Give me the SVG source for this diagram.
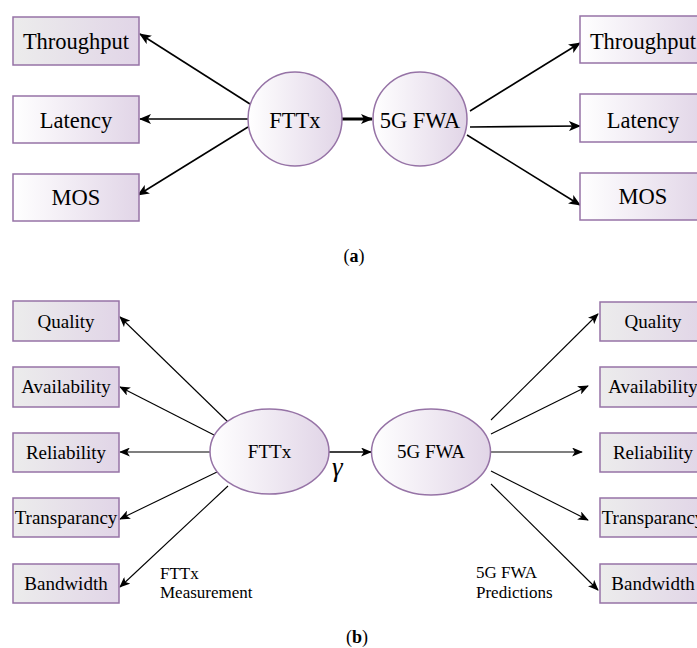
<svg xmlns="http://www.w3.org/2000/svg" width="697" height="648" viewBox="0 0 697 648">
<defs>
<linearGradient id="gW" x1="0" y1="0" x2="1" y2="0"><stop offset="0" stop-color="#ffffff"/><stop offset="1" stop-color="#e1d5e7"/></linearGradient>
<linearGradient id="gG" x1="0" y1="0" x2="1" y2="0"><stop offset="0" stop-color="#ececec"/><stop offset="1" stop-color="#e1d5e7"/></linearGradient>
<marker id="ah" viewBox="0 0 12 10" refX="11" refY="5" markerWidth="12" markerHeight="10" markerUnits="userSpaceOnUse" orient="auto"><path d="M0,0 L12,5 L0,10 L3,5 z" fill="#000"/></marker>
<marker id="ahs" viewBox="0 0 12 10" refX="11" refY="5" markerWidth="11" markerHeight="9" markerUnits="userSpaceOnUse" orient="auto"><path d="M0,0 L12,5 L0,10 L3,5 z" fill="#000"/></marker>
</defs>
<style>
.bx{stroke:#9673a6;stroke-width:1.5}
.el{stroke:#9673a6;stroke-width:1.5;fill:url(#gW)}
.t{fill:#000;text-anchor:middle}
.ta{font-size:22.5px}
.tb{font-size:19px}
.sm{font-size:17px;fill:#000}
.c1{stroke:#000;stroke-width:1.6;fill:none;marker-end:url(#ah)}
.c2{stroke:#000;stroke-width:1.1;fill:none;marker-end:url(#ahs)}
</style>
<g id="connectors">
<line class="c1" x1="250" y1="104" x2="140" y2="34"/>
<line class="c1" x1="248" y1="119" x2="140" y2="119"/>
<line class="c1" x1="248" y1="127" x2="138" y2="195"/>
<line class="c1" x1="342" y1="119" x2="372" y2="119" style="stroke-width:3"/>
<line class="c1" x1="470" y1="111" x2="580" y2="43"/>
<line class="c1" x1="470" y1="127" x2="580" y2="126"/>
<line class="c1" x1="467" y1="135" x2="580" y2="205"/>
<line class="c2" x1="228" y1="422" x2="120" y2="317"/>
<line class="c2" x1="216" y1="436" x2="120" y2="387"/>
<line class="c2" x1="210" y1="452" x2="120" y2="452"/>
<line class="c2" x1="217" y1="472" x2="120" y2="519"/>
<line class="c2" x1="228" y1="486" x2="120" y2="587"/>
<line class="c2" x1="329" y1="452" x2="371" y2="452" style="stroke-width:1.6"/>
<line class="c2" x1="491" y1="420" x2="598" y2="314"/>
<line class="c2" x1="491" y1="434" x2="588" y2="386"/>
<line class="c2" x1="491" y1="452" x2="582" y2="452"/>
<line class="c2" x1="491" y1="471" x2="588" y2="520"/>
<line class="c2" x1="491" y1="484" x2="598" y2="590"/>
</g>
<g font-family="Liberation Serif, Times New Roman, serif">
<g id="a-l-throughput"><rect class="bx" x="13" y="17" width="126" height="48" fill="url(#gG)"/><text class="t ta" x="76" y="49">Throughput</text></g>
<g id="a-l-latency"><rect class="bx" x="13" y="96" width="126" height="47" fill="url(#gW)"/><text class="t ta" x="76" y="128">Latency</text></g>
<g id="a-l-mos"><rect class="bx" x="13" y="174" width="126" height="47" fill="url(#gW)"/><text class="t ta" x="76" y="205">MOS</text></g>
<g id="a-fttx"><circle class="el" cx="295" cy="119" r="47"/><text class="t ta" x="295" y="128">FTTx</text></g>
<g id="a-5gfwa"><circle class="el" cx="420" cy="119" r="47"/><text class="t ta" x="420" y="128">5G FWA</text></g>
<g id="a-r-throughput"><rect class="bx" x="580" y="16" width="126" height="47" fill="url(#gW)"/><text class="t ta" x="643" y="49">Throughput</text></g>
<g id="a-r-latency"><rect class="bx" x="580" y="94" width="126" height="48" fill="url(#gW)"/><text class="t ta" x="643" y="128">Latency</text></g>
<g id="a-r-mos"><rect class="bx" x="580" y="173" width="126" height="47" fill="url(#gW)"/><text class="t ta" x="643" y="204">MOS</text></g>
<g id="cap-a"><text x="354" y="262" font-size="18" text-anchor="middle">(<tspan font-weight="bold">a</tspan>)</text></g>
<g id="b-l-quality"><rect class="bx" x="13" y="301" width="106" height="40" fill="url(#gG)"/><text class="t tb" x="66" y="328">Quality</text></g>
<g id="b-l-availability"><rect class="bx" x="13" y="367" width="106" height="40" fill="url(#gG)"/><text class="t tb" x="66" y="393">Availability</text></g>
<g id="b-l-reliability"><rect class="bx" x="13" y="433" width="106" height="39" fill="url(#gG)"/><text class="t tb" x="66" y="459">Reliability</text></g>
<g id="b-l-transparancy"><rect class="bx" x="13" y="498" width="106" height="39" fill="url(#gG)"/><text class="t tb" x="66" y="524">Transparancy</text></g>
<g id="b-l-bandwidth"><rect class="bx" x="13" y="564" width="106" height="39" fill="url(#gG)"/><text class="t tb" x="66" y="590">Bandwidth</text></g>
<g id="b-fttx"><ellipse class="el" cx="269.5" cy="451.5" rx="59.5" ry="42.5"/><text class="t tb" x="269.5" y="458">FTTx</text></g>
<g id="b-5gfwa"><ellipse class="el" cx="431" cy="452" rx="59.5" ry="43"/><text class="t tb" x="431" y="458">5G FWA</text></g>
<g id="b-r-quality"><rect class="bx" x="600" y="302" width="106" height="39" fill="url(#gG)"/><text class="t tb" x="653" y="328">Quality</text></g>
<g id="b-r-availability"><rect class="bx" x="600" y="367" width="106" height="40" fill="url(#gG)"/><text class="t tb" x="653" y="393">Availability</text></g>
<g id="b-r-reliability"><rect class="bx" x="600" y="433" width="106" height="39" fill="url(#gG)"/><text class="t tb" x="653" y="459">Reliability</text></g>
<g id="b-r-transparancy"><rect class="bx" x="600" y="498" width="106" height="39" fill="url(#gG)"/><text class="t tb" x="653" y="524">Transparancy</text></g>
<g id="b-r-bandwidth"><rect class="bx" x="600" y="564" width="106" height="39" fill="url(#gG)"/><text class="t tb" x="653" y="590">Bandwidth</text></g>
<g id="labels">
<text x="332" y="476" font-size="27" font-style="italic">γ</text>
<text class="sm" x="160" y="579">FTTx</text>
<text class="sm" x="160" y="598">Measurement</text>
<text class="sm" x="476" y="578">5G FWA</text>
<text class="sm" x="476" y="598">Predictions</text>
</g>
<g id="cap-b"><text x="357" y="643" font-size="18" text-anchor="middle">(<tspan font-weight="bold">b</tspan>)</text></g>
</g>
</svg>
